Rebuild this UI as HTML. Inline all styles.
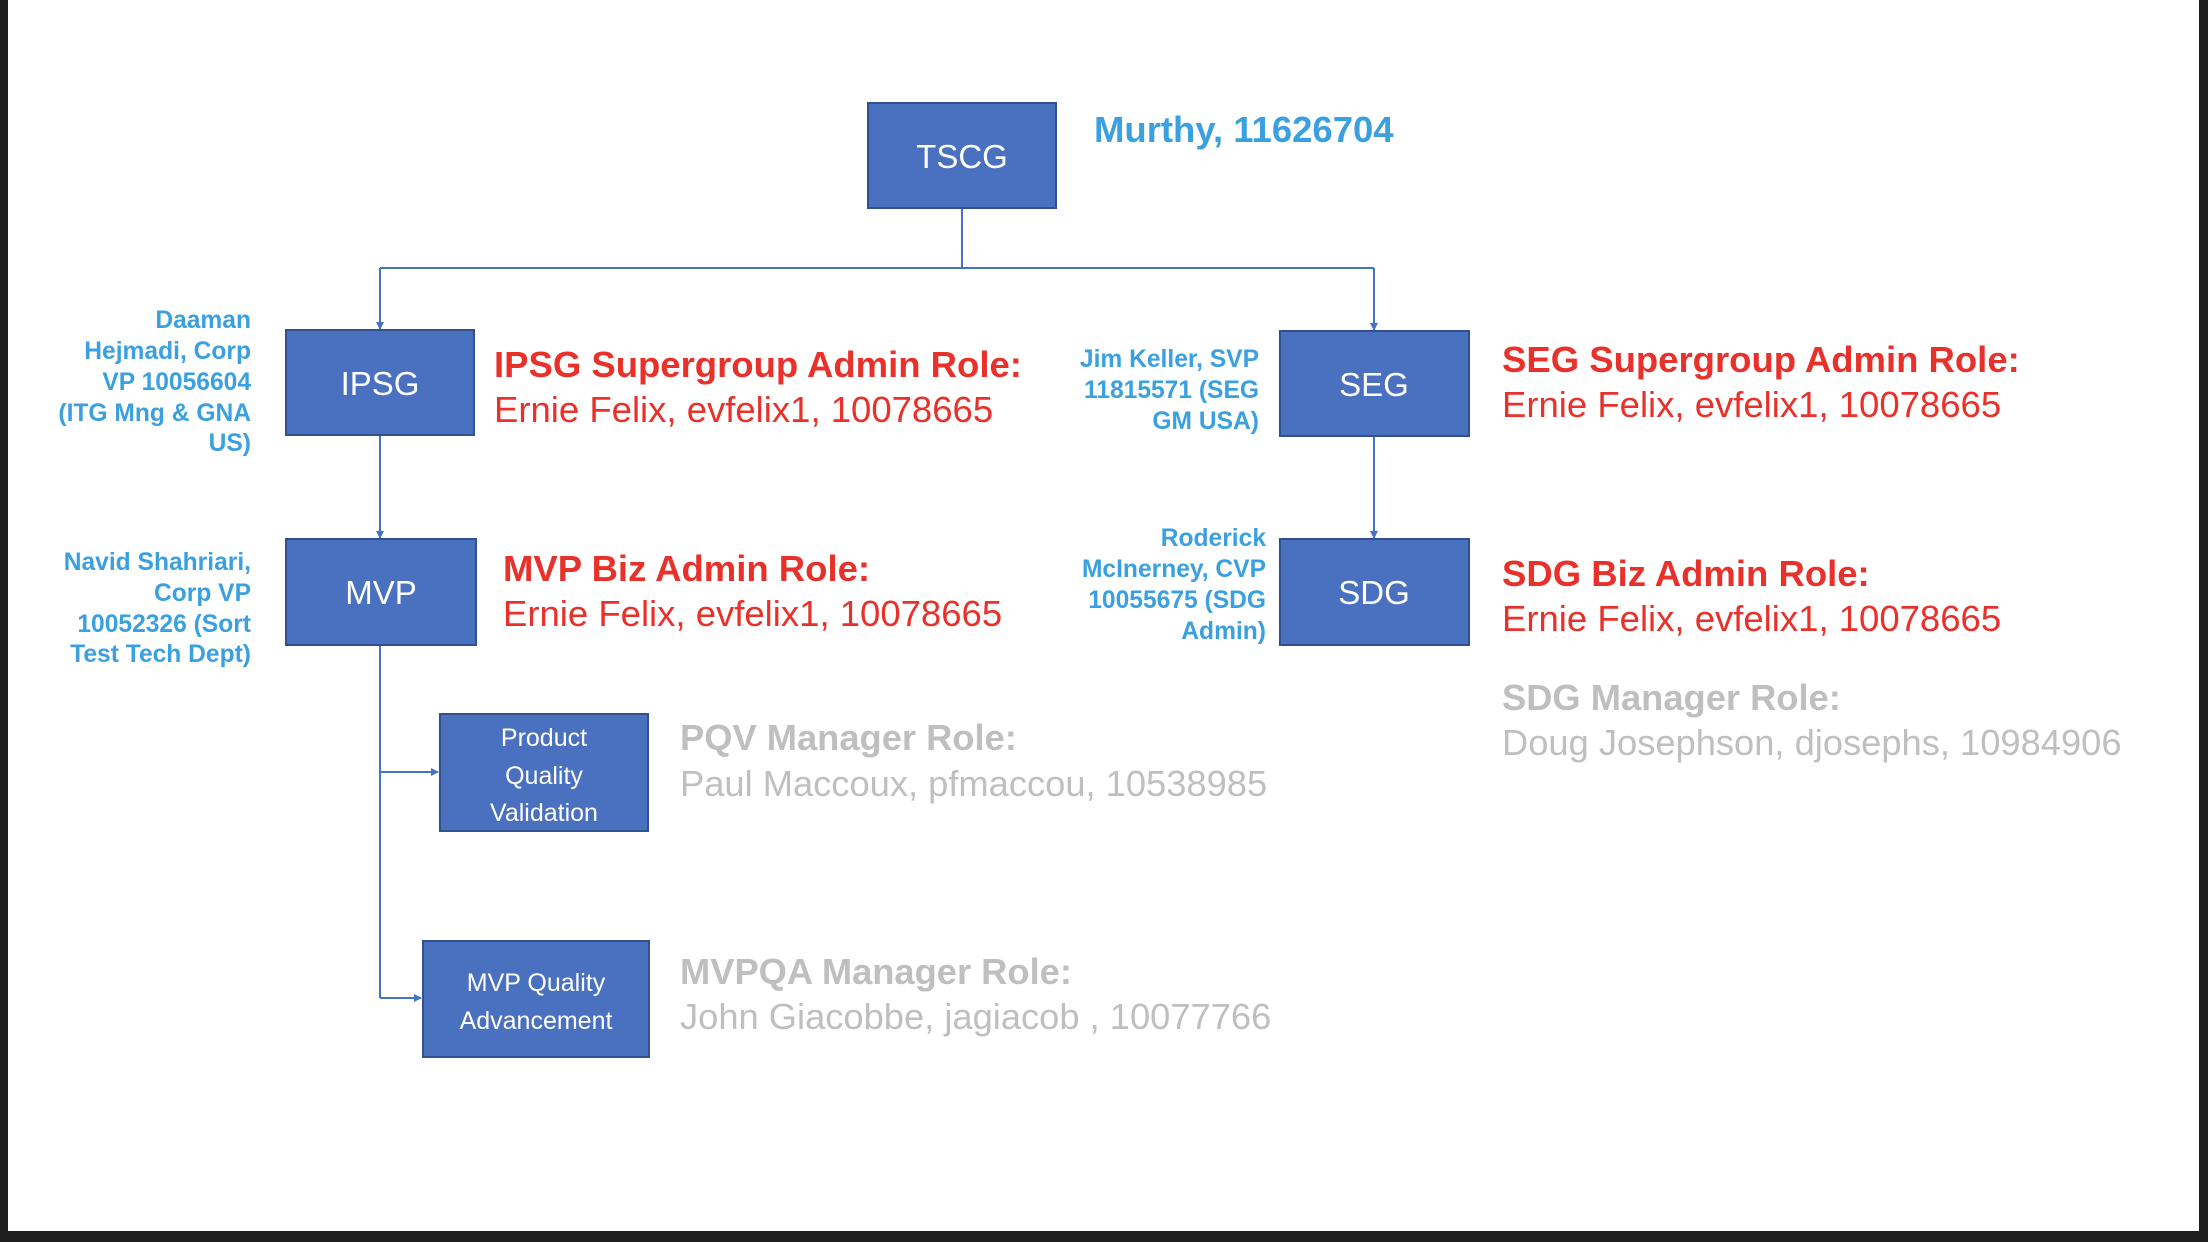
<!DOCTYPE html>
<html><head><meta charset="utf-8"><style>
html,body{margin:0;padding:0;background:#1f1f1f;}
svg{display:block;}
</style></head><body>
<svg width="2208" height="1242" viewBox="0 0 2208 1242" xmlns="http://www.w3.org/2000/svg" font-family="Liberation Sans, sans-serif">
<rect x="0" y="0" width="2208" height="1242" fill="#1f1f1f"/>
<rect x="8" y="0" width="2191" height="1231" fill="#ffffff"/>
<defs><marker id="a" markerWidth="8" markerHeight="8" refX="7" refY="4" orient="auto" markerUnits="userSpaceOnUse"><path d="M0,0 L8,4 L0,8 z" fill="#4472c4"/></marker></defs>
<g stroke="#4472c4" stroke-width="2" fill="none">
<path d="M962 208 V268"/>
<path d="M380 268 H1374"/>
<path d="M380 268 V329" marker-end="url(#a)"/>
<path d="M1374 268 V330" marker-end="url(#a)"/>
<path d="M380 435 V538" marker-end="url(#a)"/>
<path d="M1374 436 V538" marker-end="url(#a)"/>
<path d="M380 645 V998"/>
<path d="M380 772 H438" marker-end="url(#a)"/>
<path d="M380 998 H421" marker-end="url(#a)"/>
</g>
<g fill="#4a70c0" stroke="#2f528f" stroke-width="2">
<rect x="868" y="103" width="188" height="105"/>
<rect x="286" y="330" width="188" height="105"/>
<rect x="1280" y="331" width="189" height="105"/>
<rect x="286" y="539" width="190" height="106"/>
<rect x="1280" y="539" width="189" height="106"/>
<rect x="440" y="714" width="208" height="117"/>
<rect x="423" y="941" width="226" height="116"/>
</g>
<g fill="#ffffff" text-anchor="middle" font-size="33">
<text x="962" y="168">TSCG</text>
<text x="380" y="395">IPSG</text>
<text x="1374" y="396">SEG</text>
<text x="381" y="604">MVP</text>
<text x="1374" y="604">SDG</text>
</g>
<g fill="#ffffff" text-anchor="middle" font-size="25">
<text x="544" y="746">Product</text>
<text x="544" y="784">Quality</text>
<text x="544" y="821">Validation</text>
<text x="536" y="991">MVP Quality</text>
<text x="536" y="1029">Advancement</text>
</g>
<text x="1094" y="142" font-size="36.5" font-weight="bold" fill="#3aa0e0">Murthy, 11626704</text>
<g font-size="36.5" fill="#e8312a">
<text x="494" y="377" font-weight="bold">IPSG Supergroup Admin Role:</text>
<text x="494" y="422">Ernie Felix, evfelix1, 10078665</text>
<text x="1502" y="372" font-weight="bold">SEG Supergroup Admin Role:</text>
<text x="1502" y="417">Ernie Felix, evfelix1, 10078665</text>
<text x="503" y="581" font-weight="bold">MVP Biz Admin Role:</text>
<text x="503" y="626">Ernie Felix, evfelix1, 10078665</text>
<text x="1502" y="586" font-weight="bold">SDG Biz Admin Role:</text>
<text x="1502" y="631">Ernie Felix, evfelix1, 10078665</text>
</g>
<g font-size="36.3" fill="#bfbfbf">
<text x="1502" y="710" font-weight="bold">SDG Manager Role:</text>
<text x="1502" y="755">Doug Josephson, djosephs, 10984906</text>
<text x="680" y="750" font-weight="bold">PQV Manager Role:</text>
<text x="680" y="796">Paul Maccoux, pfmaccou, 10538985</text>
<text x="680" y="984" font-weight="bold">MVPQA Manager Role:</text>
<text x="680" y="1029">John Giacobbe, jagiacob , 10077766</text>
</g>
<g font-size="24.6" font-weight="bold" fill="#3aa0e0" text-anchor="end">
<text x="251" y="328">Daaman</text>
<text x="251" y="359">Hejmadi, Corp</text>
<text x="251" y="390">VP 10056604</text>
<text x="251" y="421">(ITG Mng &amp; GNA</text>
<text x="251" y="451">US)</text>
<text x="251" y="570">Navid Shahriari,</text>
<text x="251" y="601">Corp VP</text>
<text x="251" y="632">10052326 (Sort</text>
<text x="251" y="662">Test Tech Dept)</text>
<text x="1259" y="367">Jim Keller, SVP</text>
<text x="1259" y="398">11815571 (SEG</text>
<text x="1259" y="429">GM USA)</text>
<text x="1266" y="546">Roderick</text>
<text x="1266" y="577">McInerney, CVP</text>
<text x="1266" y="608">10055675 (SDG</text>
<text x="1266" y="639">Admin)</text>
</g>
</svg>
</body></html>
